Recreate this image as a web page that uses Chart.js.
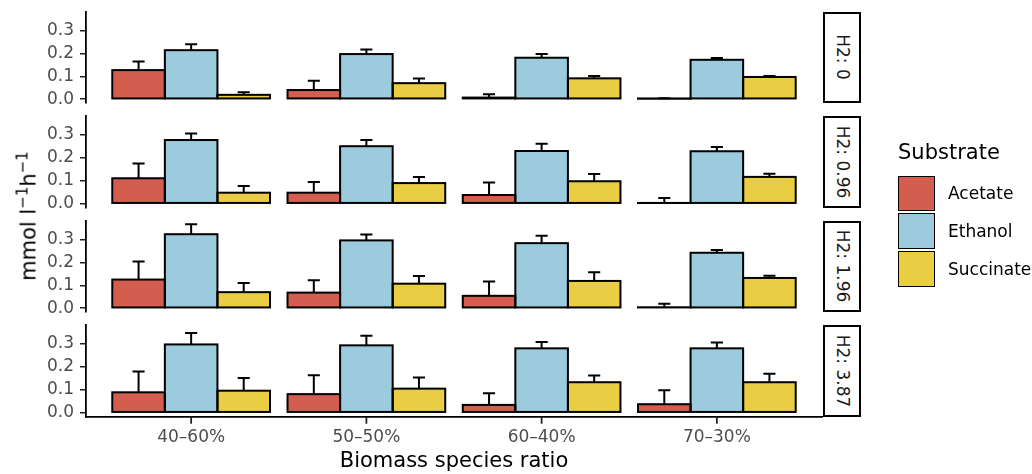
<!DOCTYPE html>
<html>
<head>
<meta charset="utf-8">
<script src="https://cdn.jsdelivr.net/npm/chart.js@4.4.1/dist/chart.umd.min.js"></script>
<style>
html,body{margin:0;padding:0;background:#fff;}
#wrap{position:relative;width:1032px;height:474px;overflow:hidden;font-family:"DejaVu Sans",sans-serif;background:#fff;}
#wrap canvas{position:absolute;left:0;top:0;}
.strip{position:absolute;box-sizing:border-box;border:2px solid #000;background:#fff;}
.strip span{position:absolute;left:50%;top:50%;transform:translate(-50%,-50%) rotate(90deg);white-space:nowrap;font-size:17px;line-height:17px;color:#1a1a1a;}
.ytitle{position:absolute;left:29px;top:216px;transform:translate(-50%,-50%) rotate(-90deg);white-space:nowrap;font-size:21px;line-height:21px;color:#000;}
.ytitle sup{font-size:15px;vertical-align:8px;line-height:0;}
.legtitle{position:absolute;font-size:21px;line-height:21px;color:#000;white-space:nowrap;}
.key{position:absolute;box-sizing:border-box;border:1.8px solid #000;}
.leglab{position:absolute;font-size:17px;line-height:17px;color:#000;white-space:nowrap;}
</style>
</head>
<body>
<div id="wrap"></div>
<script>
// ---------- data ----------
const categories = ['40–60%', '50–50%', '60–40%', '70–30%'];
const substrates = ['Acetate', 'Ethanol', 'Succinate'];
const h2Levels = ['0', '0.96', '1.96', '3.87'];
const yTicks = [0.0, 0.1, 0.2, 0.3];

// rows: H2 = 0, 0.96, 1.96, 3.87 ; columns: categories
const acetateMean = [
  [0.127, 0.040, 0.007, 0.002],
  [0.111, 0.048, 0.038, 0.003],
  [0.125, 0.068, 0.054, 0.004],
  [0.089, 0.081, 0.034, 0.037]
];
const acetateErr = [
  [0.038, 0.041, 0.015, 0.002],
  [0.064, 0.047, 0.055, 0.022],
  [0.079, 0.054, 0.063, 0.015],
  [0.091, 0.083, 0.051, 0.061]
];
const ethanolMean = [
  [0.214, 0.197, 0.181, 0.172],
  [0.278, 0.251, 0.230, 0.229],
  [0.323, 0.296, 0.284, 0.242],
  [0.298, 0.294, 0.281, 0.281]
];
const ethanolErr = [
  [0.026, 0.020, 0.016, 0.008],
  [0.029, 0.027, 0.032, 0.019],
  [0.044, 0.026, 0.032, 0.012],
  [0.050, 0.042, 0.028, 0.025]
];
const succinateMean = [
  [0.019, 0.070, 0.091, 0.097],
  [0.048, 0.090, 0.098, 0.117],
  [0.070, 0.107, 0.119, 0.132],
  [0.096, 0.105, 0.133, 0.133]
];
const succinateErr = [
  [0.011, 0.020, 0.010, 0.004],
  [0.029, 0.027, 0.032, 0.014],
  [0.040, 0.034, 0.038, 0.010],
  [0.055, 0.049, 0.029, 0.037]
];

// ---------- styling / layout ----------
const colors = ['#D35E4F', '#9BCBDC', '#E9CD43'];
const means = [acetateMean, ethanolMean, succinateMean];
const errs = [acetateErr, ethanolErr, succinateErr];
const W = 1032, H = 474;
const PLOT_LEFT = 86, PLOT_RIGHT = 822;
const PANEL_TOP0 = 11.7, PANEL_STEP = 104.5, PANEL_H = 91.5;
const FONT = "'DejaVu Sans', sans-serif";
Chart.defaults.font.family = FONT;

const wrap = document.getElementById('wrap');

const barDecor = {
  id: 'barDecor',
  afterDatasetsDraw(chart) {
    const ctx = chart.ctx;
    const ys = chart.scales.y;
    ctx.save();
    ctx.strokeStyle = '#000';
    ctx.lineWidth = 2;
    chart.data.datasets.forEach((ds, k) => {
      const meta = chart.getDatasetMeta(k);
      meta.data.forEach((bar, j) => {
        const p = bar.getProps(['x', 'y', 'base', 'width'], true);
        const yUp = ys.getPixelForValue(ds.data[j].y + ds.errs[j]);
        const cap = p.width * 0.23;
        ctx.beginPath();
        ctx.moveTo(p.x, p.y);
        ctx.lineTo(p.x, yUp);
        ctx.moveTo(p.x - cap / 2, yUp);
        ctx.lineTo(p.x + cap / 2, yUp);
        ctx.stroke();
      });
    });
    chart.data.datasets.forEach((ds, k) => {
      const meta = chart.getDatasetMeta(k);
      meta.data.forEach((bar) => {
        const p = bar.getProps(['x', 'y', 'base', 'width'], true);
        ctx.strokeRect(p.x - p.width / 2, p.y, p.width, p.base - p.y);
      });
    });
    ctx.restore();
  },
  afterDraw(chart) {
    // x-axis tick marks at category positions, placed by the library's x scale
    const xs = chart.scales.x;
    if (!xs.options.display) return;
    const ctx = chart.ctx;
    ctx.save();
    ctx.strokeStyle = '#222';
    ctx.lineWidth = 1.8;
    xs.ticks.forEach((t, i) => {
      const px = xs.getPixelForTick(i);
      ctx.beginPath();
      ctx.moveTo(px, xs.top);
      ctx.lineTo(px, xs.top + 7);
      ctx.stroke();
    });
    ctx.restore();
  }
};

h2Levels.forEach((lvl, i) => {
  const isLast = i === h2Levels.length - 1;
  const top = PANEL_TOP0 + PANEL_STEP * i;
  const bottom = top + PANEL_H;
  const cv = document.createElement('canvas');
  cv.width = W; cv.height = H;
  cv.style.width = W + 'px'; cv.style.height = H + 'px';
  wrap.appendChild(cv);

  new Chart(cv, {
    type: 'bar',
    data: {
      datasets: substrates.map((s, k) => ({
        label: s,
        data: categories.map((c, j) => ({ x: j, y: means[k][i][j] })),
        errs: errs[k][i],
        backgroundColor: colors[k],
        borderWidth: 0,
        categoryPercentage: 0.9,
        barPercentage: 1.0
      }))
    },
    options: {
      responsive: false,
      animation: false,
      devicePixelRatio: 1,
      layout: { padding: { left: 0, right: W - PLOT_RIGHT, top: top, bottom: isLast ? 0 : H - bottom } },
      plugins: { legend: { display: false }, tooltip: { enabled: false } },
      scales: {
        x: {
          type: 'linear', min: -0.6, max: 3.6, offset: false, display: isLast,
          afterBuildTicks: (s) => { s.ticks = categories.map((c, j) => ({ value: j })); },
          afterFit: (s) => { if (isLast) { s.height = H - bottom; } s.paddingLeft = 0; s.paddingRight = 0; },
          ticks: {
            callback: (v) => categories[Math.round(v)],
            autoSkip: false, maxRotation: 0, minRotation: 0,
            color: '#4D4D4D', font: { size: 17 }, padding: 6
          },
          grid: { display: false, drawTicks: true, tickLength: 5 },
          border: { display: true, color: '#000', width: 1.8 },
          title: { display: true, text: 'Biomass species ratio', color: '#000', font: { size: 21 }, padding: { top: 0, bottom: 0 } }
        },
        y: {
          type: 'linear', min: -0.0175, max: 0.382,
          afterBuildTicks: (s) => { s.ticks = yTicks.map((v) => ({ value: v })); },
          afterFit: (s) => { s.width = PLOT_LEFT; s.paddingTop = 0; s.paddingBottom = 0; },
          ticks: { callback: (v) => v.toFixed(1), color: '#4D4D4D', font: { size: 17 }, padding: 6 },
          grid: { drawOnChartArea: false, drawTicks: true, tickLength: 6, color: '#222', lineWidth: 1.5 },
          border: { display: true, color: '#000', width: 1.8 }
        }
      }
    },
    plugins: [barDecor]
  });

  const strip = document.createElement('div');
  strip.className = 'strip';
  strip.style.left = (PLOT_RIGHT + 1) + 'px';
  strip.style.top = top + 'px';
  strip.style.width = '38px';
  strip.style.height = PANEL_H + 'px';
  const sp = document.createElement('span');
  sp.textContent = 'H2: ' + lvl;
  strip.appendChild(sp);
  wrap.appendChild(strip);
});

// y-axis title
const yt = document.createElement('div');
yt.className = 'ytitle';
yt.innerHTML = 'mmol l<sup>−1</sup>h<sup>−1</sup>';
wrap.appendChild(yt);

// legend
const lt = document.createElement('div');
lt.className = 'legtitle';
lt.style.left = '898px';
lt.style.top = '142px';
lt.textContent = 'Substrate';
wrap.appendChild(lt);
substrates.forEach((s, k) => {
  const keyTop = 175.7 + 37.7 * k;
  const key = document.createElement('div');
  key.className = 'key';
  key.style.left = '897.5px';
  key.style.top = keyTop + 'px';
  key.style.width = '37px';
  key.style.height = '35.5px';
  key.style.background = colors[k];
  wrap.appendChild(key);
  const lab = document.createElement('div');
  lab.className = 'leglab';
  lab.style.left = '948px';
  lab.style.top = (keyTop + 17.75 - 8.2) + 'px';
  lab.textContent = s;
  wrap.appendChild(lab);
});
</script>
</body>
</html>
